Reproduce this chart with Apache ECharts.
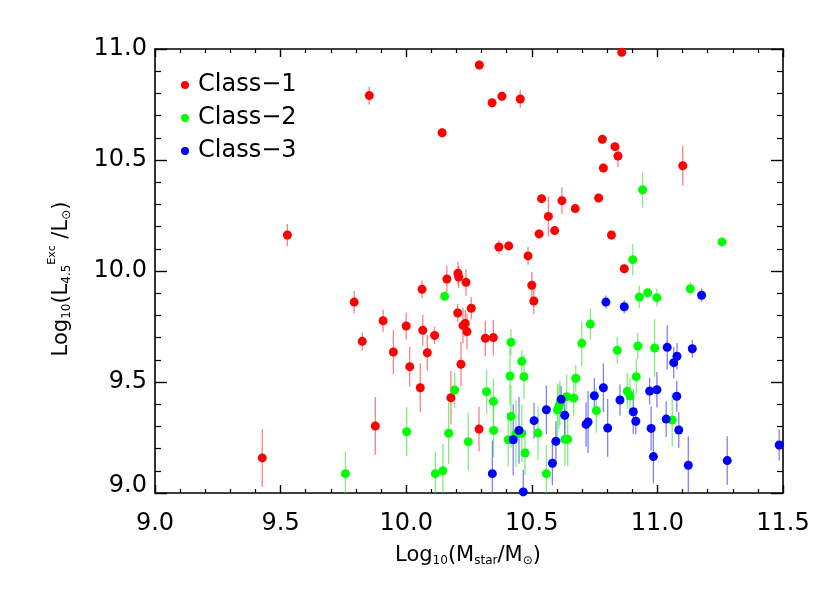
<!DOCTYPE html>
<html>
<head>
<meta charset="utf-8">
<script src="https://cdn.jsdelivr.net/npm/echarts@6/dist/echarts.min.js"></script>
<style>
  html, body { margin: 0; padding: 0; background: #fff; }
  #chart { width: 830px; height: 593px; }
</style>
</head>
<body>
<div id="chart"></div>
<script>
// [log Mstar, log L4.5 excess, error]
var class1 = [
  [9.527, 10.162, 0.05], [9.853, 10.790, 0.04], [10.143, 10.623, 0.02], [10.291, 10.928, 0.02],
  [10.342, 10.758, 0.02], [10.381, 10.787, 0.02], [10.454, 10.775, 0.04], [10.858, 10.985, 0.02],
  [10.781, 10.593, 0.02], [10.831, 10.560, 0.02], [10.843, 10.518, 0.05], [10.785, 10.464, 0.02],
  [11.101, 10.474, 0.09], [10.539, 10.326, 0.02], [10.566, 10.246, 0.09], [10.620, 10.317, 0.06],
  [10.673, 10.281, 0.02], [10.766, 10.329, 0.02], [10.529, 10.167, 0.02], [10.591, 10.182, 0.02],
  [10.817, 10.162, 0.02], [10.369, 10.108, 0.03], [10.408, 10.113, 0.02], [10.485, 10.068, 0.04],
  [10.868, 10.010, 0.02], [9.427, 9.158, 0.13], [9.793, 9.860, 0.05], [9.825, 9.683, 0.04],
  [9.908, 9.776, 0.05], [9.949, 9.635, 0.10], [10.000, 9.752, 0.06], [10.014, 9.569, 0.09],
  [10.056, 9.474, 0.11], [10.063, 9.918, 0.04], [10.066, 9.733, 0.07], [10.084, 9.632, 0.08],
  [10.113, 9.710, 0.04], [9.877, 9.302, 0.13], [10.162, 9.964, 0.06], [10.206, 9.990, 0.05],
  [10.209, 9.973, 0.05], [10.205, 9.811, 0.04], [10.238, 9.949, 0.06], [10.259, 9.832, 0.05],
  [10.226, 9.754, 0.08], [10.235, 9.764, 0.06], [10.242, 9.727, 0.08], [10.218, 9.580, 0.10],
  [10.315, 9.697, 0.08], [10.347, 9.700, 0.08], [10.178, 9.429, 0.12], [10.290, 9.288, 0.10],
  [10.500, 9.936, 0.06], [10.508, 9.865, 0.06]
];
var class2 = [
  [10.941, 10.366, 0.08], [11.257, 10.131, 0.02], [10.902, 10.051, 0.07], [9.758, 9.087, 0.10],
  [10.002, 9.276, 0.11], [10.153, 9.886, 0.02], [10.193, 9.464, 0.08], [10.169, 9.269, 0.14],
  [10.116, 9.087, 0.10], [10.146, 9.100, 0.12], [10.417, 9.679, 0.06], [10.460, 9.593, 0.05],
  [10.469, 9.524, 0.10], [10.413, 9.527, 0.13], [10.320, 9.456, 0.10], [10.347, 9.413, 0.10],
  [10.247, 9.231, 0.13], [10.348, 9.282, 0.12], [10.417, 9.345, 0.14], [10.406, 9.240, 0.12],
  [10.437, 9.266, 0.15], [10.460, 9.269, 0.13], [10.473, 9.180, 0.10], [10.525, 9.270, 0.12],
  [10.558, 9.087, 0.13], [10.602, 9.374, 0.12], [10.608, 9.389, 0.10], [10.612, 9.404, 0.10],
  [10.639, 9.434, 0.10], [10.632, 9.242, 0.12], [10.643, 9.242, 0.12], [10.667, 9.428, 0.08],
  [10.675, 9.517, 0.06], [10.699, 9.674, 0.10], [10.733, 9.761, 0.07], [10.757, 9.371, 0.10],
  [10.840, 9.643, 0.06], [10.880, 9.458, 0.08], [10.891, 9.437, 0.08], [10.916, 9.524, 0.08],
  [10.922, 9.662, 0.06], [10.928, 9.883, 0.05], [10.961, 9.902, 0.02], [10.989, 9.653, 0.13],
  [10.998, 9.880, 0.04], [11.059, 9.329, 0.12], [11.131, 9.920, 0.03]
];
var class3 = [
  [10.343, 9.087, 0.15], [10.426, 9.240, 0.16], [10.449, 9.282, 0.15], [10.466, 9.005, 0.10],
  [10.509, 9.326, 0.08], [10.558, 9.375, 0.11], [10.582, 9.134, 0.10], [10.596, 9.233, 0.09],
  [10.617, 9.422, 0.06], [10.631, 9.350, 0.10], [10.716, 9.309, 0.10], [10.724, 9.320, 0.14],
  [10.749, 9.438, 0.08], [10.785, 9.474, 0.11], [10.795, 9.860, 0.03], [10.802, 9.293, 0.13],
  [10.851, 9.419, 0.07], [10.868, 9.839, 0.03], [10.904, 9.366, 0.10], [10.914, 9.323, 0.06],
  [10.969, 9.459, 0.06], [10.998, 9.465, 0.08], [10.975, 9.291, 0.10], [10.984, 9.164, 0.12],
  [11.035, 9.333, 0.08], [11.039, 9.656, 0.10], [11.065, 9.587, 0.07], [11.078, 9.616, 0.06],
  [11.077, 9.436, 0.07], [11.085, 9.284, 0.08], [11.123, 9.125, 0.13], [11.139, 9.650, 0.04],
  [11.176, 9.891, 0.03], [11.278, 9.146, 0.11], [11.485, 9.216, 0.07]
];
var classNames = ['Class\u22121', 'Class\u22122', 'Class\u22123'];
var classColors = ['#ff0000', '#00ff00', '#0000ff'];
var barColors = ['rgba(255,60,60,0.65)', 'rgba(60,230,60,0.65)', 'rgba(60,60,255,0.65)'];

var FONT = '"DejaVu Sans", sans-serif';
var xMin = 9.0, xMax = 11.5, yMin = 9.0, yMax = 11.0;

var chart = echarts.init(document.getElementById('chart'));

// axis titles with sub/superscripts, built from pieces
var ctx = document.createElement('canvas').getContext('2d');
function buildTitle(parts) {
  var widths = parts.map(function (p) {
    ctx.font = p[1] + 'px "DejaVu Sans"';
    return ctx.measureText(p[0]).width;
  });
  var total = widths.reduce(function (a, b) { return a + b; }, 0);
  var x = -total / 2;
  var children = [];
  parts.forEach(function (p, i) {
    children.push({
      type: 'text',
      x: x, y: p[2],
      style: { text: p[0], font: p[1] + 'px ' + FONT, fill: '#000', align: 'left', verticalAlign: 'middle' }
    });
    x += widths[i];
  });
  return children;
}
var xTitle = buildTitle([
  ['Log', 21, 0], ['10', 12, 5], ['(M', 21, 0], ['star', 12, 5], ['/M', 21, 0], ['\u2299', 12, 5], [')', 21, 0]
]);
var yTitle = buildTitle([
  ['Log', 21, 0], ['10', 12, 5], ['(L', 21, 0], ['4.5', 12, 5], ['Exc', 11, -10], [' /L', 21, 0], ['\u2299', 12, 5], [')', 21, 0]
]);

function errSeries(data, idx) {
  return {
    type: 'custom',
    data: data,
    z: 1,
    silent: true,
    encode: { x: 0, y: 1 },
    renderItem: function (params, api) {
      var x = api.value(0), y = api.value(1), e = api.value(2);
      var p1 = api.coord([x, Math.max(y - e, yMin)]);
      var p2 = api.coord([x, Math.min(y + e, yMax)]);
      return {
        type: 'line',
        shape: { x1: p1[0], y1: p1[1], x2: p2[0], y2: p2[1] },
        style: { stroke: barColors[idx], lineWidth: 1.3 }
      };
    }
  };
}
function pointSeries(data, idx) {
  return {
    name: classNames[idx],
    type: 'scatter',
    data: data,
    z: 2,
    symbol: 'circle',
    symbolSize: 9,
    clip: false,
    itemStyle: { color: classColors[idx], opacity: 1 },
    emphasis: { disabled: true }
  };
}

var axisLine = { show: true, lineStyle: { color: '#000', width: 1.6 } };
function xAxis(pos, showLabel) {
  return {
    type: 'value', position: pos, min: xMin, max: xMax, interval: 0.5,
    axisLine: axisLine,
    axisTick: { show: true, inside: true, length: 8, lineStyle: { color: '#000', width: 1.4 } },
    minorTick: { show: true, splitNumber: 5, length: 4, lineStyle: { color: '#000', width: 1.2 } },
    splitLine: { show: false },
    axisLabel: {
      show: showLabel, margin: 19, fontFamily: FONT, fontSize: 24, color: '#000',
      formatter: function (v) { return v.toFixed(1); }
    }
  };
}
function yAxis(pos, showLabel) {
  return {
    type: 'value', position: pos, min: yMin, max: yMax, interval: 0.5,
    axisLine: axisLine,
    axisTick: { show: true, inside: true, length: 12, lineStyle: { color: '#000', width: 1.4 } },
    minorTick: { show: true, splitNumber: 5, length: 6, lineStyle: { color: '#000', width: 1.2 } },
    splitLine: { show: false },
    axisLabel: {
      show: showLabel, margin: 8, fontFamily: FONT, fontSize: 24, color: '#000',
      formatter: function (v) {
        // lowest label sits a little above its tick, clear of the x labels
        return v === yMin ? '{lo|' + v.toFixed(1) + '}' : v.toFixed(1);
      },
      rich: { lo: { fontFamily: FONT, fontSize: 24, color: '#000', padding: [0, 0, 15, 0] } }
    }
  };
}

var option = {
  animation: false,
  backgroundColor: '#fff',
  grid: { left: 155, right: 47, top: 49, bottom: 100 },
  xAxis: [xAxis('bottom', true), xAxis('top', false)],
  yAxis: [yAxis('left', true), yAxis('right', false)],
  legend: {
    orient: 'vertical',
    left: 176, top: 68,
    itemWidth: 8, itemHeight: 8, itemGap: 9,
    icon: 'circle',
    selectedMode: false,
    data: classNames,
    textStyle: { fontFamily: FONT, fontSize: 24, color: '#000', lineHeight: 24, padding: [0, 0, 0, 4] }
  },
  graphic: [
    { type: 'group', x: 468, y: 556, children: xTitle, silent: true },
    { type: 'group', x: 62, y: 279, rotation: Math.PI / 2, children: yTitle, silent: true }
  ],
  series: [
    errSeries(class1, 0), errSeries(class2, 1), errSeries(class3, 2),
    pointSeries(class1, 0), pointSeries(class2, 1), pointSeries(class3, 2)
  ]
};
chart.setOption(option);
</script>
</body>
</html>
